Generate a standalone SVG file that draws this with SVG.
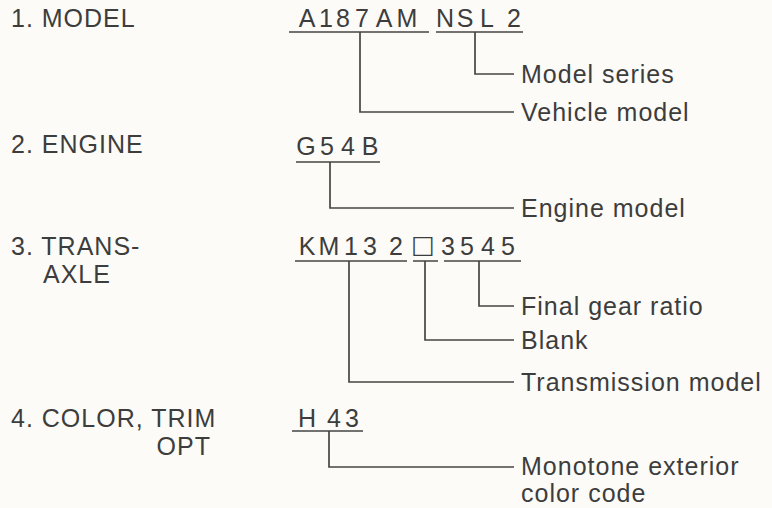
<svg xmlns="http://www.w3.org/2000/svg" width="772" height="508" viewBox="0 0 772 508">
<style>
  text { font-family: "Liberation Sans", "DejaVu Sans", sans-serif; font-size: 25px; fill: #3d3d3d; }
  .lbl { letter-spacing: 1px; }
  .code { text-anchor: middle; }
  .box { font-family: "DejaVu Sans", sans-serif; font-size: 25px; text-anchor: middle; }
  .cn { fill: none; stroke: #454545; stroke-width: 1.7; }
</style>
<rect width="772" height="508" fill="#fcfbf7"/>

<g id="model">
  <text class="lbl" x="11" y="27">1. MODEL</text>
  <text class="code" x="307 326 343 362 384 407 445 465 487 514" y="27">A187AMNSL2</text>
  <path class="cn" d="M289 32H429M436 32H523"/>
</g>
<g id="model-series"><text class="lbl" x="521" y="83">Model series</text></g>
<g id="vehicle-model"><text class="lbl" x="521" y="121">Vehicle model</text></g>

<g id="engine">
  <text class="lbl" x="11" y="153">2. ENGINE</text>
  <text class="code" x="306 327 348 370" y="155">G54B</text>
  <path class="cn" d="M296 162H380"/>
</g>
<g id="engine-model"><text class="lbl" x="521" y="217">Engine model</text></g>

<g id="transaxle">
  <text class="lbl" x="11" y="255">3. TRANS-</text>
  <text class="lbl" x="43" y="283">AXLE</text>
  <text class="code" x="307 329 351 370 396" y="255">KM132</text>
  <text class="box" x="423" y="253">□</text>
  <text class="code" x="448 467 488 508" y="255">3545</text>
  <path class="cn" d="M295 261H407M413 261H438M444 261H521"/>
</g>
<g id="final-gear"><text class="lbl" x="521" y="315">Final gear ratio</text></g>
<g id="blank"><text class="lbl" x="521" y="349">Blank</text></g>
<g id="transmission-model"><text class="lbl" x="521" y="391">Transmission model</text></g>

<g id="color">
  <text class="lbl" x="11" y="427">4. COLOR, TRIM</text>
  <text class="lbl" x="211" y="455" text-anchor="end">OPT</text>
  <text class="code" x="307 334 352" y="427">H43</text>
  <path class="cn" d="M292 431H363"/>
</g>
<g id="color-code">
  <text class="lbl" x="521" y="475">Monotone exterior</text>
  <text class="lbl" x="521" y="502">color code</text>
</g>

<g id="connectors">
  <path class="cn" d="M475 32V74H514"/>
  <path class="cn" d="M360 32V112H514"/>
  <path class="cn" d="M330 162V208H514"/>
  <path class="cn" d="M479 261V306H514"/>
  <path class="cn" d="M425 261V340H514"/>
  <path class="cn" d="M349 261V382H514"/>
  <path class="cn" d="M329 431V467H514"/>
</g>
</svg>
